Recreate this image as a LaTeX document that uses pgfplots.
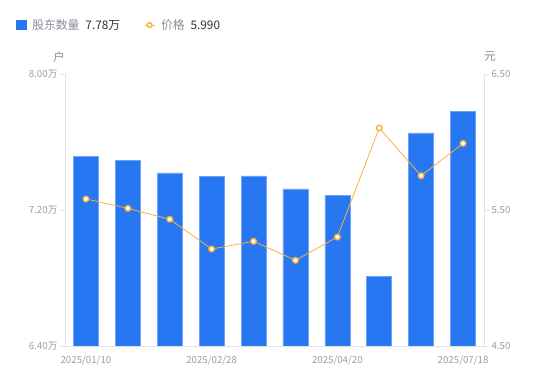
\documentclass[border=0pt]{standalone}
\usepackage{pgfplots}
\pgfplotsset{compat=1.18}
\usepackage{fontspec}
\setmainfont{Noto Sans CJK SC}
\definecolor{barblue}{HTML}{2777F2}
\definecolor{baredge}{HTML}{6FA2F6}
\definecolor{lineorange}{HTML}{F8B23A}
\definecolor{axisgray}{HTML}{E2E2E8}
\definecolor{ticktext}{HTML}{9C9CAC}
\definecolor{legtext}{HTML}{8A8A99}
\definecolor{valtext}{HTML}{333333}

\pgfplotsset{
  common/.style={
    at={(65pt,35pt)}, anchor=south west,
    scale only axis, width=419pt, height=272pt,
    xmin=-0.5, xmax=9.5,
    axis line style={draw=axisgray, line width=0.9pt},
    tick style={draw=axisgray, line width=0.9pt},
    major tick length=5pt,
    tick align=outside,
    /pgf/number format/assume math mode=true,
    tick label style={font=\fontsize{9.7pt}{11pt}\selectfont, text=ticktext},
  }
}

\begin{document}
\begin{tikzpicture}[x=1pt,y=1pt]
\path[use as bounding box] (0,0) rectangle (550,381);
\begin{axis}[common,
  ymin=6.4, ymax=8.0,
  axis x line*=bottom, axis y line*=left,
  xtick={0,3,6,9},
  xticklabels={2025/01/10,2025/02/28,2025/04/20,2025/07/18},
  x tick style={draw=none},
  xticklabel style={yshift=-1pt},
  ytick={6.4,7.2,8.0},
  yticklabels={6.40万,7.20万,8.00万},
  yticklabel style={xshift=1pt},
  legend columns=2,
  legend style={at={(-0.117,1.18)}, anchor=west, draw=none, fill=none,
    inner sep=0pt, font=\fontsize{11.8pt}{13pt}\selectfont,
    /tikz/every even column/.append style={column sep=22pt}},
  legend cell align=left,
]
\addplot[ybar, bar width=25pt, bar shift=0pt, fill=barblue, draw=baredge, line width=0.6pt,
  legend image code/.code={\fill[barblue] (0pt,-4.5pt) rectangle (9.5pt,4.5pt);}]
  coordinates {(0,7.516) (1,7.492) (2,7.418) (3,7.396) (4,7.400) (5,7.324) (6,7.284) (7,6.810) (8,7.653) (9,7.782)};
\addlegendentry{\hspace{4pt}{\color{legtext}股东数量}\hspace{6pt}{\color{valtext}7.78万}}
\addlegendimage{legend image code/.code={
  \draw[lineorange, line width=0.8pt] (0pt,0pt) -- (10pt,0pt);
  \draw[lineorange, line width=1.4pt, fill=white] (5pt,0pt) circle (2.4pt);}}
\addlegendentry{\hspace{4pt}{\color{legtext}价格}\hspace{6pt}{\color{valtext}5.990}}
\end{axis}
\begin{axis}[common,
  ymin=4.5, ymax=6.5,
  axis x line=none, axis y line*=right,
  ytick={4.5,5.5,6.5},
  yticklabels={4.50,5.50,6.50},
  yticklabel style={xshift=-1pt},
  clip=false,
]
\addplot[lineorange, line width=0.8pt, mark=*, mark size=2.8pt,
  mark options={draw=lineorange, fill=white, line width=1.4pt}]
  coordinates {(0,5.581) (1,5.512) (2,5.432) (3,5.213) (4,5.270) (5,5.130) (6,5.301) (7,6.103) (8,5.752) (9,5.990)};
\end{axis}
\node[text=legtext, font=\fontsize{11.5pt}{13pt}\selectfont] at (59,324) {户};
\node[text=legtext, font=\fontsize{11.5pt}{13pt}\selectfont] at (490,324) {元};
\end{tikzpicture}
\end{document}
